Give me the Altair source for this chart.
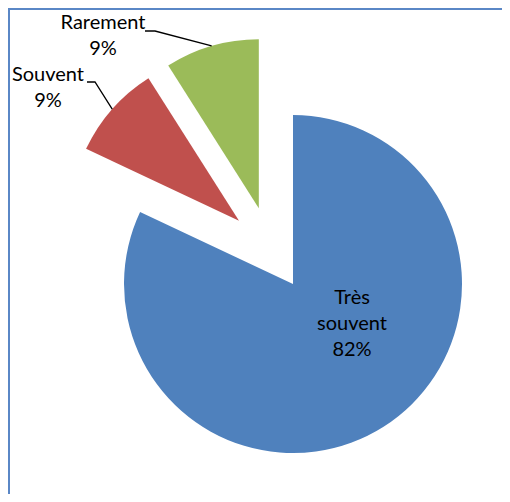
import math
import altair as alt
import pandas as pd

# ---- data ----
categories = ["Très souvent", "Souvent", "Rarement"]
values = [82, 9, 9]
labels = ["Très\nsouvent\n82%", "Souvent\n9%", "Rarement\n9%"]
colors = ["#4F81BD", "#C0504D", "#9BBB59"]

# ---- layout (pixels, chart coordinates) ----
W, H = 494, 486
CX, CY = 262.5, 240.6      # pie centre before explosion
EXPLODE = 42               # explosion distance of each slice
R = 169                    # pie radius
label_pos = {"Très souvent": (344, 296), "Souvent": (40, 73), "Rarement": (95, 21)}
leader_start = {"Souvent": [(79, 74), (87, 74)], "Rarement": [(137, 23), (147, 23)]}
FONT = "Lato"
FS = 20

total = sum(values)
rows, cum = [], 0.0
for c, v, l in zip(categories, values, labels):
    t0 = 2 * math.pi * cum / total
    cum += v
    t1 = 2 * math.pi * cum / total
    mid = (t0 + t1) / 2
    cx = CX + EXPLODE * math.sin(mid)
    cy = CY - EXPLODE * math.cos(mid)
    rows.append(dict(category=c, value=v, label=l, t0=t0, t1=t1, mid=mid,
                     cx=cx, cy=cy, lx=label_pos[c][0], ly=label_pos[c][1]))
df = pd.DataFrame(rows)

lead = []
for r in rows:
    if r["category"] in leader_start:
        pts = leader_start[r["category"]] + [
            (r["cx"] + R * math.sin(r["mid"]), r["cy"] - R * math.cos(r["mid"]))]
        for i, (x, y) in enumerate(pts):
            lead.append(dict(category=r["category"], i=i, x=x, y=y))
lead_df = pd.DataFrame(lead)

color_scale = alt.Scale(domain=categories, range=colors)

pie = alt.Chart(df).mark_arc(radius=R, stroke=None).encode(
    theta=alt.Theta("t0:Q", scale=None),
    theta2="t1:Q",
    x=alt.X("cx:Q", scale=None),
    y=alt.Y("cy:Q", scale=None),
    color=alt.Color("category:N", scale=color_scale, legend=None),
)

text = alt.Chart(df).mark_text(
    font=FONT, fontSize=FS, color="#000000", align="center",
    baseline="alphabetic", lineBreak="\n", lineHeight=26,
).encode(
    x=alt.X("lx:Q", scale=None),
    y=alt.Y("ly:Q", scale=None),
    text="label:N",
)

leaders = alt.Chart(lead_df).mark_line(color="#000000", strokeWidth=1.3).encode(
    x=alt.X("x:Q", scale=None),
    y=alt.Y("y:Q", scale=None),
    detail="category:N",
    order="i:Q",
)

border_left = alt.Chart(df).mark_rule(color="#5A87C6", strokeWidth=2).encode(
    x=alt.value(1), y=alt.value(0), y2=alt.value(H))
border_top = alt.Chart(df).mark_rule(color="#5A87C6", strokeWidth=2).encode(
    x=alt.value(0), x2=alt.value(W), y=alt.value(1))

chart = alt.layer(pie, leaders, text, border_left, border_top).properties(
    width=W, height=H, padding=0, autosize=alt.AutoSizeParams(type="none"),
).configure_view(stroke=None)

chart.save("out.html", embed_options={"renderer": "svg", "actions": False})
